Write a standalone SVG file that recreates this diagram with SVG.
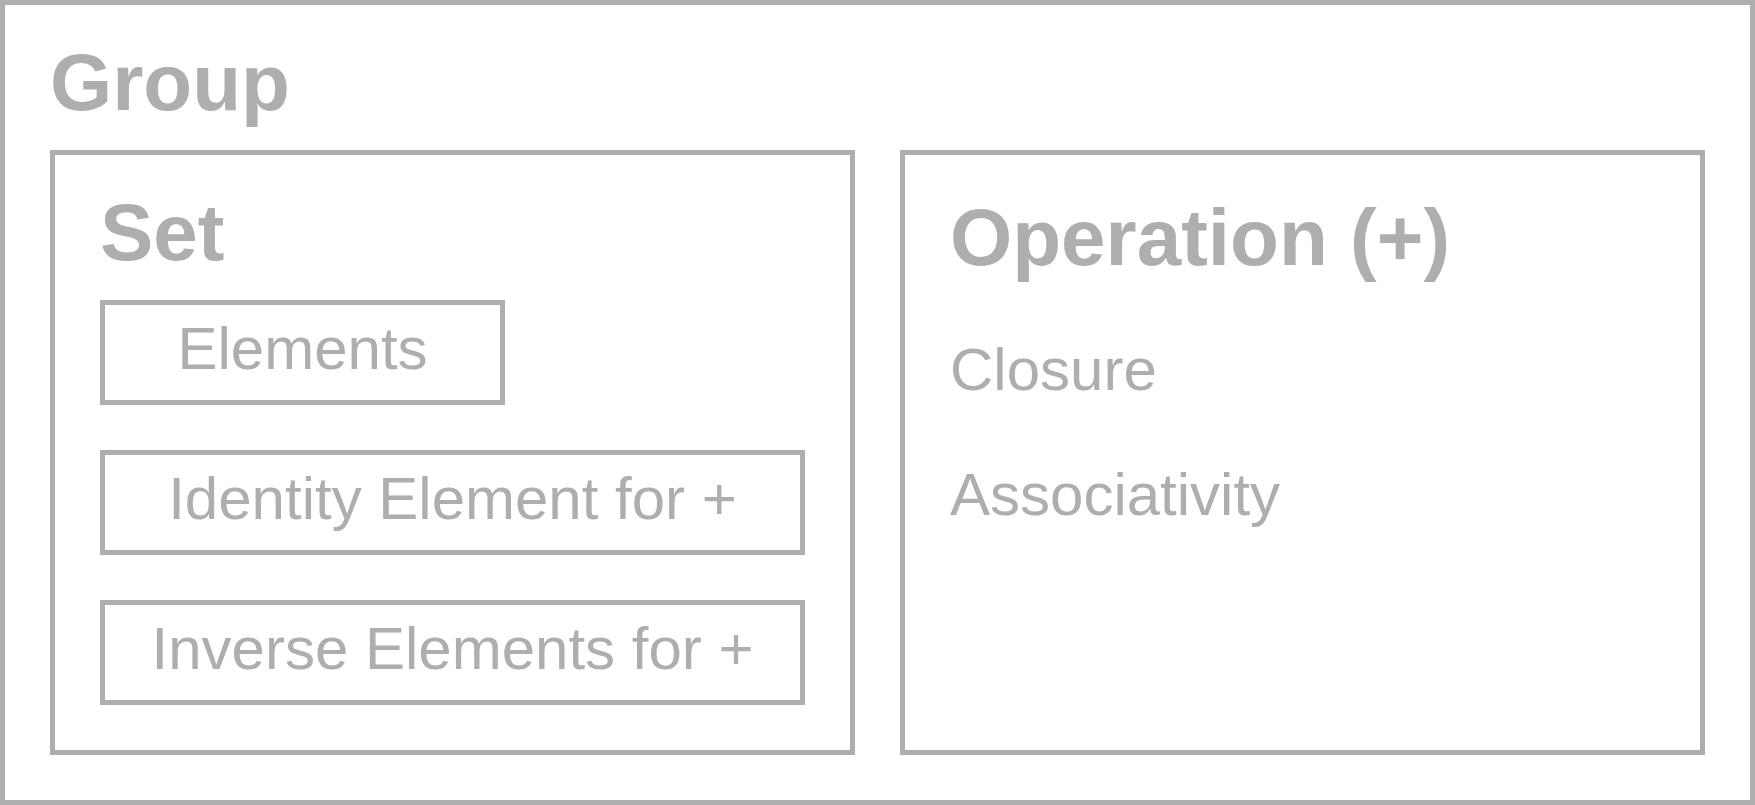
<svg xmlns="http://www.w3.org/2000/svg" width="1755" height="805" viewBox="0 0 1755 805">
  <style>
    .box { fill: #ffffff; stroke: #aeaeae; stroke-width: 5; }
    .title { font-family: "Liberation Sans", Arial, sans-serif; font-weight: bold; font-size: 80px; fill: #aeaeae; }
    .item { font-family: "Liberation Sans", Arial, sans-serif; font-size: 60px; fill: #aeaeae; }
    .mid { text-anchor: middle; }
  </style>

  <!-- outer frame: the group -->
  <g id="group">
    <rect class="box" x="2.5" y="2.5" width="1750" height="800"/>
    <text class="title" x="50" y="110">Group</text>
  </g>

  <!-- left panel: the set and its parts -->
  <g id="set">
    <rect class="box" x="52.5" y="152.5" width="800" height="600"/>
    <text class="title" x="100" y="260">Set</text>
  </g>
  <g id="elements">
    <rect class="box" x="102.5" y="302.5" width="400" height="100"/>
    <text class="item mid" x="302.5" y="369">Elements</text>
  </g>
  <g id="identity">
    <rect class="box" x="102.5" y="452.5" width="700" height="100"/>
    <text class="item mid" x="452.5" y="519">Identity Element for +</text>
  </g>
  <g id="inverse">
    <rect class="box" x="102.5" y="602.5" width="700" height="100"/>
    <text class="item mid" x="452.5" y="669">Inverse Elements for +</text>
  </g>

  <!-- right panel: the operation and its properties -->
  <g id="operation">
    <rect class="box" x="902.5" y="152.5" width="800" height="600"/>
    <text class="title" x="950" y="265">Operation (+)</text>
    <text class="item" x="950" y="390">Closure</text>
    <text class="item" x="950" y="515">Associativity</text>
  </g>

  <!-- no connectors in this layout -->
  <g id="connectors"></g>
</svg>
